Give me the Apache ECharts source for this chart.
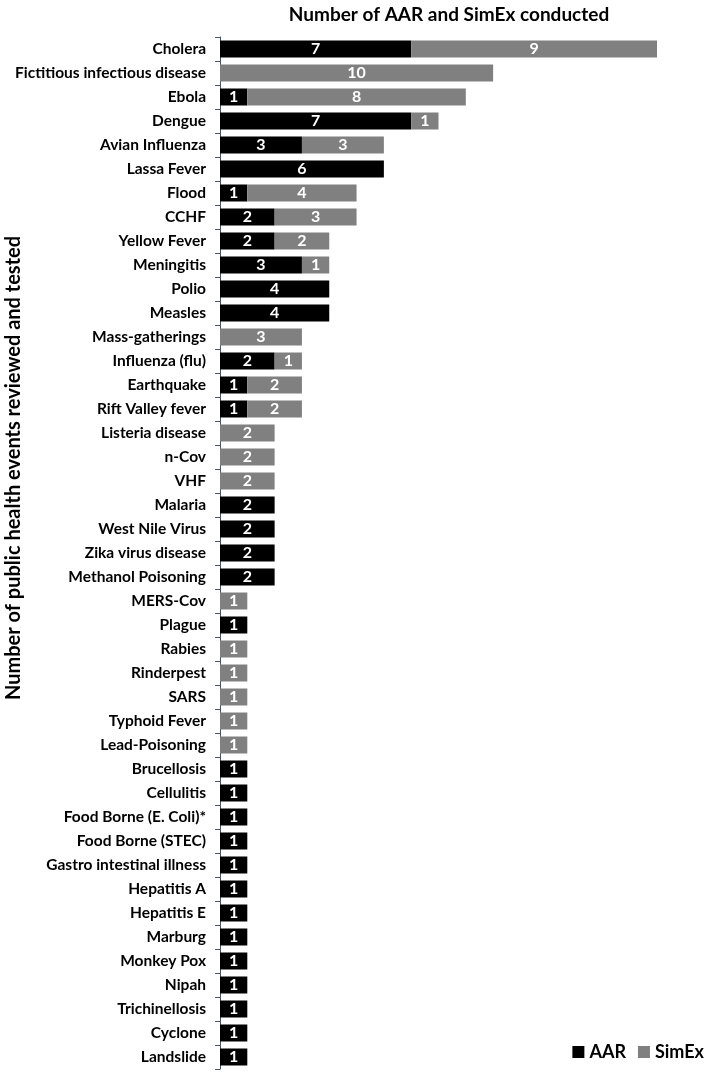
<!DOCTYPE html>
<html>
<head>
<meta charset="utf-8">
<script src="https://cdn.jsdelivr.net/npm/echarts@6/dist/echarts.min.js"></script>
<style>
html,body{margin:0;padding:0;background:#fff;}
#main{width:709px;height:1074px;}
</style>
</head>
<body>
<div id="main"></div>
<script>
var categories = ['Cholera','Fictitious infectious disease','Ebola','Dengue','Avian Influenza','Lassa Fever','Flood','CCHF','Yellow Fever','Meningitis','Polio','Measles','Mass-gatherings','Influenza (flu)','Earthquake','Rift Valley fever','Listeria disease','n-Cov','VHF','Malaria','West Nile Virus','Zika virus disease','Methanol Poisoning','MERS-Cov','Plague','Rabies','Rinderpest','SARS','Typhoid Fever','Lead-Poisoning','Brucellosis','Cellulitis','Food Borne (E. Coli)*','Food Borne (STEC)','Gastro intestinal illness','Hepatitis A','Hepatitis E','Marburg','Monkey Pox','Nipah','Trichinellosis','Cyclone','Landslide'];
var aarData = [7,0,1,7,3,6,1,2,2,3,4,4,0,2,1,1,0,0,0,2,2,2,2,0,1,0,0,0,0,0,1,1,1,1,1,1,1,1,1,1,1,1,1];
var simexData = [9,10,8,1,3,0,4,3,2,1,0,0,3,1,2,2,2,2,2,0,0,0,0,1,0,1,1,1,1,1,0,0,0,0,0,0,0,0,0,0,0,0,0];

var fontFam = 'Lato, "Open Sans", sans-serif';

var chart = echarts.init(document.getElementById('main'));

function barLabel(){
	return {
		show: true,
		position: 'inside',
		color: '#fff',
		fontFamily: fontFam,
		fontWeight: 'bold',
		fontSize: 16,
		formatter: function(p){ return p.value ? p.value : ''; }
	};
}

var option = {
	animation: false,
	title: {
		text: 'Number of AAR and SimEx conducted',
		left: 444,
		textAlign: 'center',
		top: 0,
		textStyle: { fontFamily: fontFam, fontWeight: 'bold', fontSize: 19, color: '#000' }
	},
	legend: {
		right: 0,
		top: 1038,
		itemWidth: 12,
		itemHeight: 12,
		itemGap: 12,
		icon: 'rect',
		textStyle: { fontFamily: fontFam, fontWeight: 'bold', fontSize: 18, color: '#000' },
		data: ['AAR', 'SimEx']
	},
	graphic: [{
		type: 'text',
		x: 4,
		y: 468,
		rotation: Math.PI / 2,
		style: {
			text: 'Number of public health events reviewed and tested',
			fontFamily: fontFam,
			fontWeight: 'bold',
			fontSize: 20,
			fill: '#000',
			align: 'center',
			verticalAlign: 'top'
		}
	}],
	grid: {
		left: 220,
		top: 37,
		width: 437,
		height: 1032,
		containLabel: false
	},
	xAxis: {
		type: 'value',
		min: 0,
		max: 16,
		show: false
	},
	yAxis: {
		type: 'category',
		inverse: true,
		data: categories,
		axisLine: { show: true, lineStyle: { color: '#44546a', width: 1 } },
		axisTick: { show: true, length: 5, lineStyle: { color: '#44546a' } },
		axisLabel: {
			margin: 14,
			color: '#000',
			fontFamily: fontFam,
			fontWeight: 'bold',
			fontSize: 15.5,
			interval: 0
		}
	},
	series: [
		{
			name: 'AAR',
			type: 'bar',
			stack: 'total',
			barWidth: 17,
			itemStyle: { color: '#000000' },
			label: barLabel(),
			data: aarData
		},
		{
			name: 'SimEx',
			type: 'bar',
			stack: 'total',
			barWidth: 17,
			itemStyle: { color: '#808080' },
			label: barLabel(),
			data: simexData
		}
	]
};

chart.setOption(option, true);
</script>
</body>
</html>
